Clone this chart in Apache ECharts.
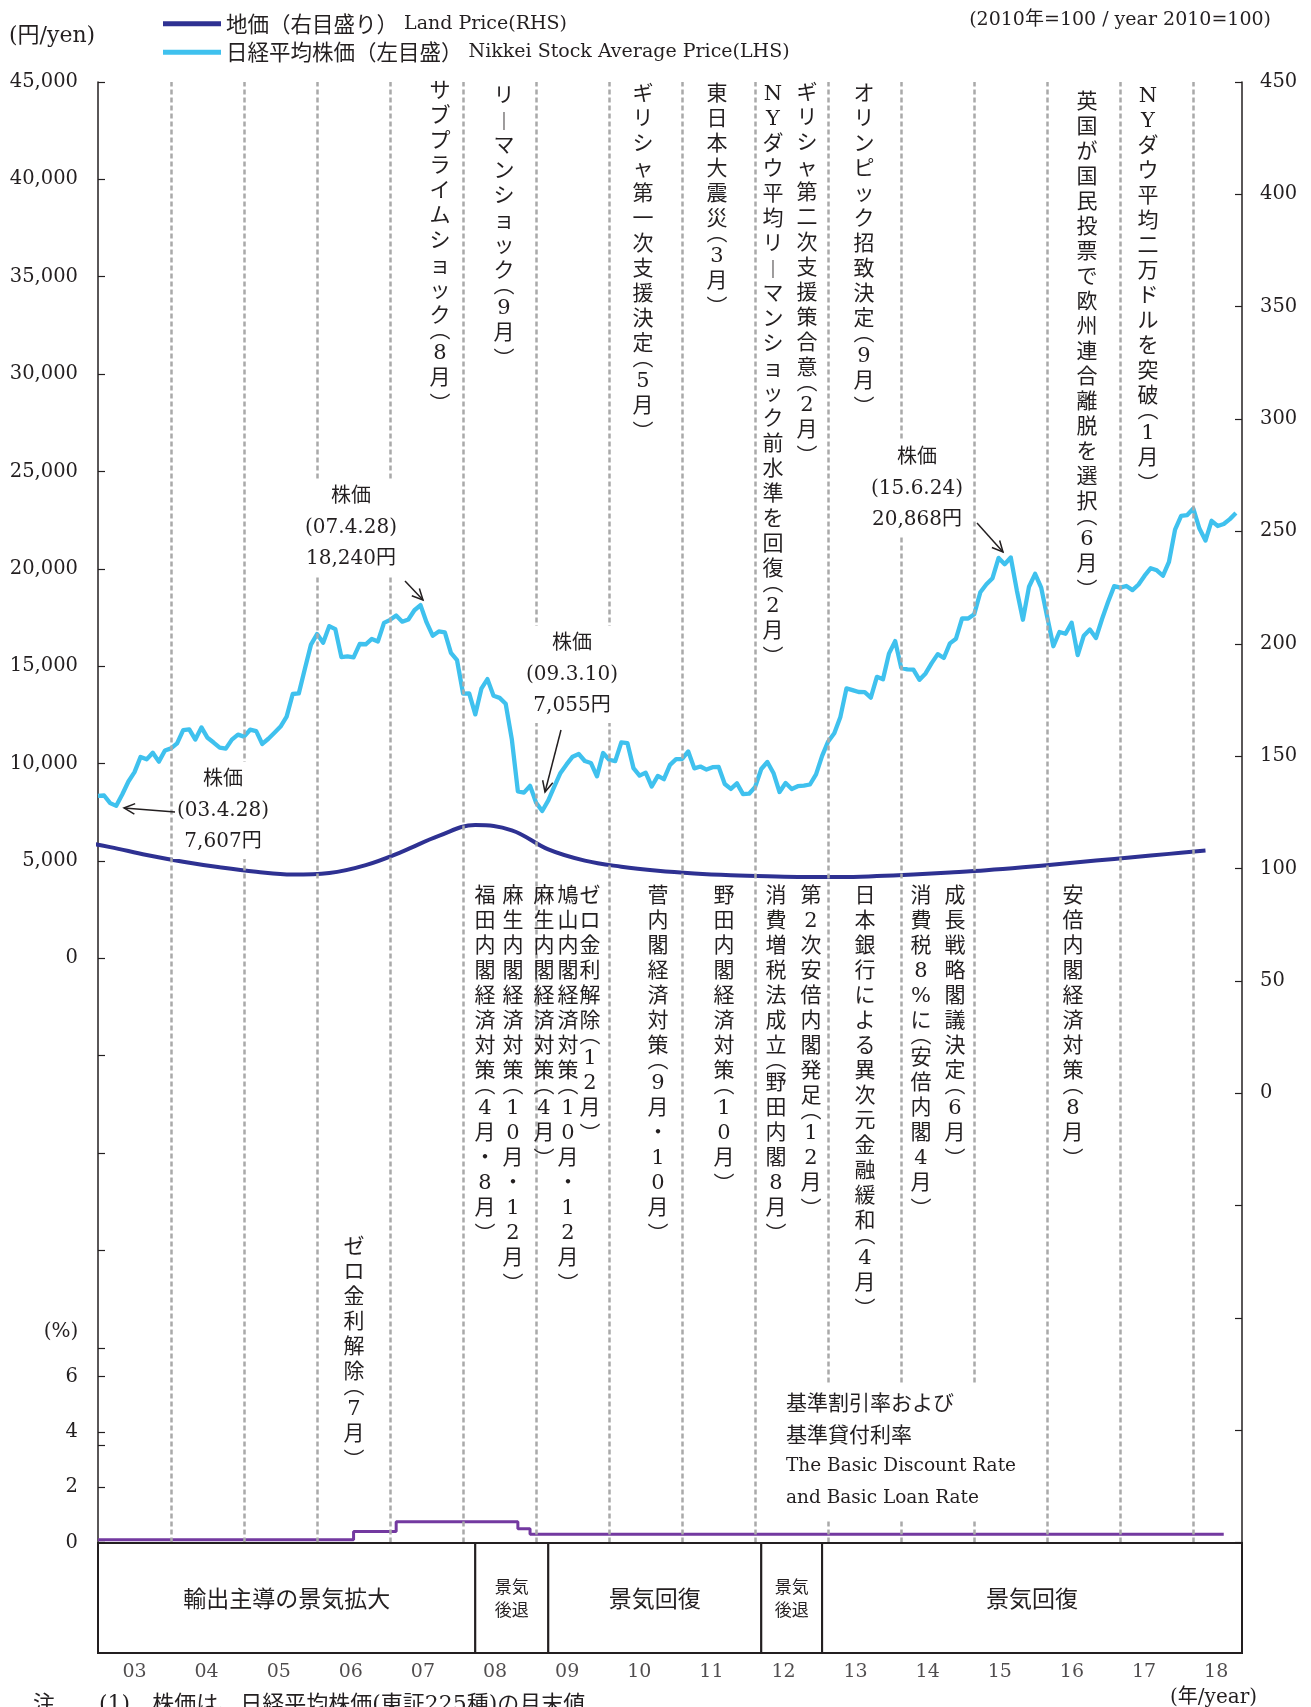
<!DOCTYPE html>
<html><head><meta charset="utf-8">
<script src="https://cdn.jsdelivr.net/npm/echarts/dist/echarts.min.js"></script>
<style>html,body{margin:0;padding:0;background:#fff}#c{width:1311px;height:1707px}</style>
</head><body><div id="c"></div>
<script>
// ---------------- data ----------------
// Nikkei month-end close, 2003-01 .. 2018-08 (yen)
const nikkeiStart = '2003-01';
const nikkei = [
8339, 8363, 7973, 7831, 8425, 9083, 9563, 10344, 10219, 10560, 10101, 10677,
10784, 11042, 11715, 11762, 11236, 11859, 11326, 11082, 10824, 10771, 11231, 11489,
11388, 11741, 11669, 11009, 11277, 11584, 11900, 12414, 13574, 13607, 14872, 16111,
16650, 16205, 17060, 16906, 15467, 15505, 15457, 16141, 16128, 16399, 16274, 17226,
17383, 17604, 17288, 17400, 17876, 18138, 17249, 16569, 16786, 16737, 15681, 15308,
13592, 13603, 12526, 13850, 14339, 13481, 13377, 13073, 11260, 8577, 8512, 8860,
7994, 7568, 8110, 8828, 9523, 9958, 10357, 10493, 10133, 10035, 9346, 10546,
10198, 10126, 11090, 11057, 9768, 9383, 9537, 8824, 9369, 9202, 9937, 10229,
10238, 10624, 9755, 9850, 9694, 9816, 9833, 8955, 8700, 8988, 8435, 8455,
8803, 9723, 10084, 9521, 8543, 9007, 8695, 8840, 8870, 8928, 9446, 10395,
11139, 11559, 12398, 13861, 13775, 13677, 13668, 13389, 14456, 14328, 15662, 16291,
14915, 14841, 14828, 14304, 14632, 15162, 15621, 15425, 16174, 16414, 17460, 17451,
17674, 18798, 19207, 19520, 20563, 20236, 20585, 18890, 17388, 19083, 19747, 19034,
17518, 16027, 16759, 16666, 17235, 15576, 16569, 16887, 16450, 17425, 18308, 19114,
19041, 19119, 18909, 19197, 19651, 20033, 19925, 19646, 20356, 22012, 22725, 22765,
23098, 22068, 21454, 22468, 22202, 22305, 22554, 22865];

// Land price index (2010=100), half-yearly from 2002-09 to 2018-03
const landStart = '2002-09';
const landPrice = [112.5, 109.5, 106.0, 103.0, 100.5, 98.5, 97.3, 98.0, 101.5, 107.5, 114.5, 119.3,
  117.0, 108.5, 103.5, 100.8, 99.0, 97.8, 97.0, 96.5, 96.2, 96.2, 96.6, 97.3,
  98.2, 99.2, 100.5, 102.0, 103.5, 105.0, 106.5, 108.0];

// Basic discount rate (%) change points
const rateDates = ['2003-01', '2006-07', '2007-02', '2008-10', '2008-12', '2018-06'];
const rateValues = [0.10, 0.40, 0.75, 0.50, 0.30, 0.30];

// Business-cycle phases
const phaseNames = ['輸出主導の景気拡大', '景気\n後退', '景気回復', '景気\n後退', '景気回復'];
const phaseBounds = ['2003-01', '2008-03', '2009-03', '2012-02', '2012-12', '2018-09'];

const yearLabels = ['03','04','05','06','07','08','09','10','11','12','13','14','15','16','17','18'];
const yearBoundaries = [2004,2005,2006,2007,2008,2009,2010,2011,2012,2013,2014,2015,2016,2017,2018];

const leftTicks = {min: -30000, max: 45000, step: 5000};
const rightTicks = {min: -200, max: 450, step: 50};
const rateTicks = {min: 0, max: 6, step: 2};

const legendJa = ['地価（右目盛り）', '日経平均株価（左目盛）'];
const legendEn = ['Land Price(RHS)', 'Nikkei Stock Average Price(LHS)'];

const topEvents = ['サブプライムショック(8月)', 'リーマンショック(9月)', 'ギリシャ第一次支援決定(5月)',
  '東日本大震災(3月)', 'NYダウ平均リーマンショック前水準を回復(2月)', 'ギリシャ第二次支援策合意(2月)',
  'オリンピック招致決定(9月)', '英国が国民投票で欧州連合離脱を選択(6月)', 'NYダウ平均二万ドルを突破(1月)'];
const bottomEvents = ['福田内閣経済対策(4月・8月)', '麻生内閣経済対策(10月・12月)', '麻生内閣経済対策(4月)',
  '鳩山内閣経済対策(10月・12月)', 'ゼロ金利解除(12月)', '菅内閣経済対策(9月・10月)', '野田内閣経済対策(10月)',
  '消費増税法成立(野田内閣8月)', '第2次安倍内閣発足(12月)', '日本銀行による異次元金融緩和(4月)',
  '消費税8%に(安倍内閣4月)', '成長戦略閣議決定(6月)', '安倍内閣経済対策(8月)', 'ゼロ金利解除(7月)'];
const peakNotes = ['株価\n(03.4.28)\n7,607円', '株価\n(07.4.28)\n18,240円', '株価\n(09.3.10)\n7,055円', '株価\n(15.6.24)\n20,868円'];

// ---------------- helpers ----------------
function mIdx(s) { const [y, m] = s.split('-').map(Number); return (y - 2003) * 12 + (m - 1); }
const INK = '#231f20';
const FONT = "'DejaVu Serif','Noto Sans CJK JP',serif";
const JFONT = "'Noto Sans CJK JP','DejaVu Serif',sans-serif";
const X_MAX = mIdx('2018-09');

const nikkeiData = nikkei.map((v, i) => [mIdx(nikkeiStart) + i, v]);
const landData = landPrice.map((v, i) => [mIdx(landStart) + 6 * i, v]);
const rateData = rateDates.map((d, i) => [mIdx(d), rateValues[i]]);
const phaseData = phaseNames.map((n, i) => [mIdx(phaseBounds[i]), mIdx(phaseBounds[i + 1]), i]);
// label layout: the original sets the year labels on a slightly tighter pitch than the years
const yearData = yearLabels.map((t, i) => [6 + 11.85 * i, 0]);

function fmtNum(v) { return v < 0 ? '' : v.toLocaleString('en-US'); }

// ---------------- layout (pixels) ----------------
const topPos = [[440, 79], [504, 84], [643, 82], [717, 82], [773, 82], [807, 81], [864, 82], [1087, 90], [1148, 84]];
const bottomPos = [[485, 884], [513, 884], [544, 884], [568, 884], [590, 884], [658, 884], [724, 884], [776, 884], [811, 884], [865, 884], [921, 884], [955, 884], [1073, 884], [354, 1235]];
const notePos = [[223, 762], [351, 479], [572, 626], [917, 440]];
const arrows = [[175, 812, 124, 808], [405, 581, 423, 600], [561, 730, 545, 792], [977, 523, 1003, 552]];

const graphics = [];
const CH = 25, PH = 12, FS = 21;
function addVText(s, x, top) {
  let y = top;
  Array.from(s).forEach(c => {
    const isP = (c === '(' || c === ')');
    const h = isP ? PH : CH;
    let g = c, dy = 0, fam = FONT;
    if (c === '(') { g = '︵'; dy = -6; fam = JFONT; }
    else if (c === ')') { g = '︶'; dy = 6; fam = JFONT; }
    else if (c === 'ー') { g = '︱'; fam = JFONT; }
    graphics.push({type: 'text', x: x, y: y + h / 2 + dy, z: 50, silent: true,
      style: {text: g, fill: INK, fontSize: FS, fontFamily: fam,
        align: 'center', verticalAlign: 'middle', textAlign: 'center', textVerticalAlign: 'middle'}});
    y += h;
  });
}
topEvents.forEach((s, i) => addVText(s, topPos[i][0], topPos[i][1]));
bottomEvents.forEach((s, i) => addVText(s, bottomPos[i][0], bottomPos[i][1]));
peakNotes.forEach((s, i) => {
  graphics.push({type: 'text', x: notePos[i][0], y: notePos[i][1], z: 60, silent: true,
    style: {text: s, fill: INK, fontSize: 20, fontFamily: FONT, lineHeight: 31,
      align: 'center', verticalAlign: 'top', textAlign: 'center', textVerticalAlign: 'top',
      backgroundColor: '#fff', padding: [2, 4]}});
});
arrows.forEach(a => {
  const [x1, y1, x2, y2] = a;
  const ang = Math.atan2(y2 - y1, x2 - x1), L = 12, w = 0.45;
  graphics.push({type: 'line', z: 61, silent: true, shape: {x1, y1, x2, y2}, style: {stroke: INK, lineWidth: 1.5}});
  graphics.push({type: 'polyline', z: 61, silent: true,
    shape: {points: [[x2 - L * Math.cos(ang - w), y2 - L * Math.sin(ang - w)], [x2, y2], [x2 - L * Math.cos(ang + w), y2 - L * Math.sin(ang + w)]]},
    style: {stroke: INK, lineWidth: 1.5, fill: null}});
});
function addText(text, x, y, align, vAlign, size, extra) {
  graphics.push({type: 'text', x, y, z: 60, silent: true,
    style: Object.assign({text, fill: INK, fontSize: size, fontFamily: FONT,
      align, verticalAlign: vAlign, textAlign: align, textVerticalAlign: vAlign}, extra || {})});
}
addText('(円/yen)', 9, 36, 'left', 'middle', 22);
addText('(2010年=100 / year 2010=100)', 1271, 20, 'right', 'middle', 19);
addText('(%)', 61, 1332, 'center', 'middle', 20);
addText('(年/year)', 1257, 1698, 'right', 'middle', 20);
addText('注　　(1)　株価は、日経平均株価(東証225種)の月末値', 33, 1694, 'left', 'top', 22);
addText('{j|基準割引率および}\n{j|基準貸付利率}\n{e|The Basic Discount Rate}\n{e|and Basic Loan Rate}', 780, 1384, 'left', 'top', 20,
  {lineHeight: 32, backgroundColor: '#fff', padding: [2, 6, 6, 6],
   rich: {j: {fontSize: 21, fontFamily: JFONT, lineHeight: 32, fill: INK, color: INK},
          e: {fontSize: 18.5, fontFamily: FONT, lineHeight: 32, fill: INK, color: INK}}});

// ---------------- chart ----------------
const chart = echarts.init(document.getElementById('c'), null, {renderer: 'canvas'});
const axLabel = {fontSize: 19.5, fontFamily: FONT, color: INK};
const tick = {show: true, inside: true, length: 7, lineStyle: {color: INK, width: 1.2}};
const hiddenX = (g) => ({gridIndex: g, type: 'value', min: 0, max: X_MAX, show: false});

chart.setOption({
  animation: false,
  backgroundColor: '#fff',
  textStyle: {fontFamily: FONT},
  grid: [
    {left: 98, width: 1144, top: 82, height: 1460.6},
    {left: 98, width: 1144, top: 1376.7, height: 165.9},
    {left: 98, width: 1144, top: 1543, height: 110}
  ],
  legend: {
    left: 158, top: 8, orient: 'vertical', itemWidth: 58, itemHeight: 5, itemGap: 7, itemTextGap: 5,
    icon: 'rect', selectedMode: false,
    data: legendJa.map((j, i) => j + '  ' + legendEn[i]),
    formatter: name => { const i = legendJa.findIndex(j => name.startsWith(j)); return '{j|' + legendJa[i] + '}{e| ' + legendEn[i] + '}'; },
    textStyle: {color: INK, rich: {
      j: {fontSize: 21.5, fontFamily: JFONT, color: INK, lineHeight: 24},
      e: {fontSize: 19, fontFamily: FONT, color: INK, lineHeight: 24}}}
  },
  xAxis: [hiddenX(0), hiddenX(1), hiddenX(2)],
  yAxis: [
    {gridIndex: 0, type: 'value', position: 'left', min: leftTicks.min, max: leftTicks.max, interval: leftTicks.step,
     axisLine: {show: true, lineStyle: {color: INK, width: 1.5}}, axisTick: tick,
     axisLabel: Object.assign({formatter: fmtNum, margin: 20}, axLabel), splitLine: {show: false}},
    {gridIndex: 0, type: 'value', position: 'right', min: rightTicks.min, max: rightTicks.max, interval: rightTicks.step,
     axisLine: {show: true, lineStyle: {color: INK, width: 1.5}}, axisTick: tick,
     axisLabel: Object.assign({formatter: fmtNum, margin: 18}, axLabel), splitLine: {show: false}},
    {gridIndex: 1, type: 'value', min: rateTicks.min, max: rateTicks.max, interval: rateTicks.step,
     axisLine: {show: false}, axisTick: tick,
     axisLabel: Object.assign({margin: 20}, axLabel), splitLine: {show: false}},
    {gridIndex: 2, type: 'value', min: 0, max: 1, show: false}
  ],
  series: [
    {type: 'line', xAxisIndex: 0, yAxisIndex: 0, z: 1, silent: true, data: [[0, leftTicks.min]],
     symbol: 'none', lineStyle: {width: 0, opacity: 0},
     markLine: {silent: true, symbol: ['none', 'none'], label: {show: false},
       lineStyle: {color: '#a9a9a9', width: 2.5, type: [5, 3]}, emphasis: {disabled: true},
       data: yearBoundaries.map(y => ({xAxis: mIdx(y + '-01')}))}},
    {name: legendJa[0] + '  ' + legendEn[0], type: 'line', xAxisIndex: 0, yAxisIndex: 1, z: 3,
     data: landData, smooth: 0.4, showSymbol: false, symbol: 'none',
     lineStyle: {color: '#2e3192', width: 4}, itemStyle: {color: '#2e3192'}},
    {name: legendJa[1] + '  ' + legendEn[1], type: 'line', xAxisIndex: 0, yAxisIndex: 0, z: 4,
     data: nikkeiData, showSymbol: false, symbol: 'none',
     lineStyle: {color: '#3fc1ee', width: 4.3, join: 'round'}, itemStyle: {color: '#3fc1ee'}},
    {type: 'line', xAxisIndex: 1, yAxisIndex: 2, z: 4, data: rateData, step: 'end',
     showSymbol: false, symbol: 'none', lineStyle: {color: '#7339a0', width: 3}, itemStyle: {color: '#7339a0'}},
    {type: 'custom', xAxisIndex: 2, yAxisIndex: 3, z: 5, silent: true, data: phaseData,
     renderItem: (params, api) => {
       const p0 = api.coord([api.value(0), 1]);
       const p1 = api.coord([api.value(1), 0]);
       const name = phaseNames[params.dataIndex];
       const small = name.indexOf('\n') >= 0;
       return {type: 'group', children: [
         {type: 'rect', shape: {x: p0[0], y: p0[1], width: p1[0] - p0[0], height: p1[1] - p0[1]},
          style: {fill: '#fff', stroke: INK, lineWidth: 2}},
         {type: 'text', style: {text: name, x: (p0[0] + p1[0]) / 2, y: (p0[1] + p1[1]) / 2,
           fill: INK, fontSize: small ? 17 : 23, lineHeight: small ? 23 : 28, fontFamily: JFONT,
           align: 'center', verticalAlign: 'middle', textAlign: 'center', textVerticalAlign: 'middle'}}
       ]};
     }},
    {type: 'scatter', xAxisIndex: 2, yAxisIndex: 3, z: 6, silent: true, data: yearData,
     symbolSize: 1, itemStyle: {color: 'transparent'},
     label: {show: true, position: 'bottom', distance: 9, formatter: p => yearLabels[p.dataIndex],
       fontSize: 19, fontFamily: FONT, color: INK, lineHeight: 20}}
  ],
  graphic: graphics
});
</script></body></html>
